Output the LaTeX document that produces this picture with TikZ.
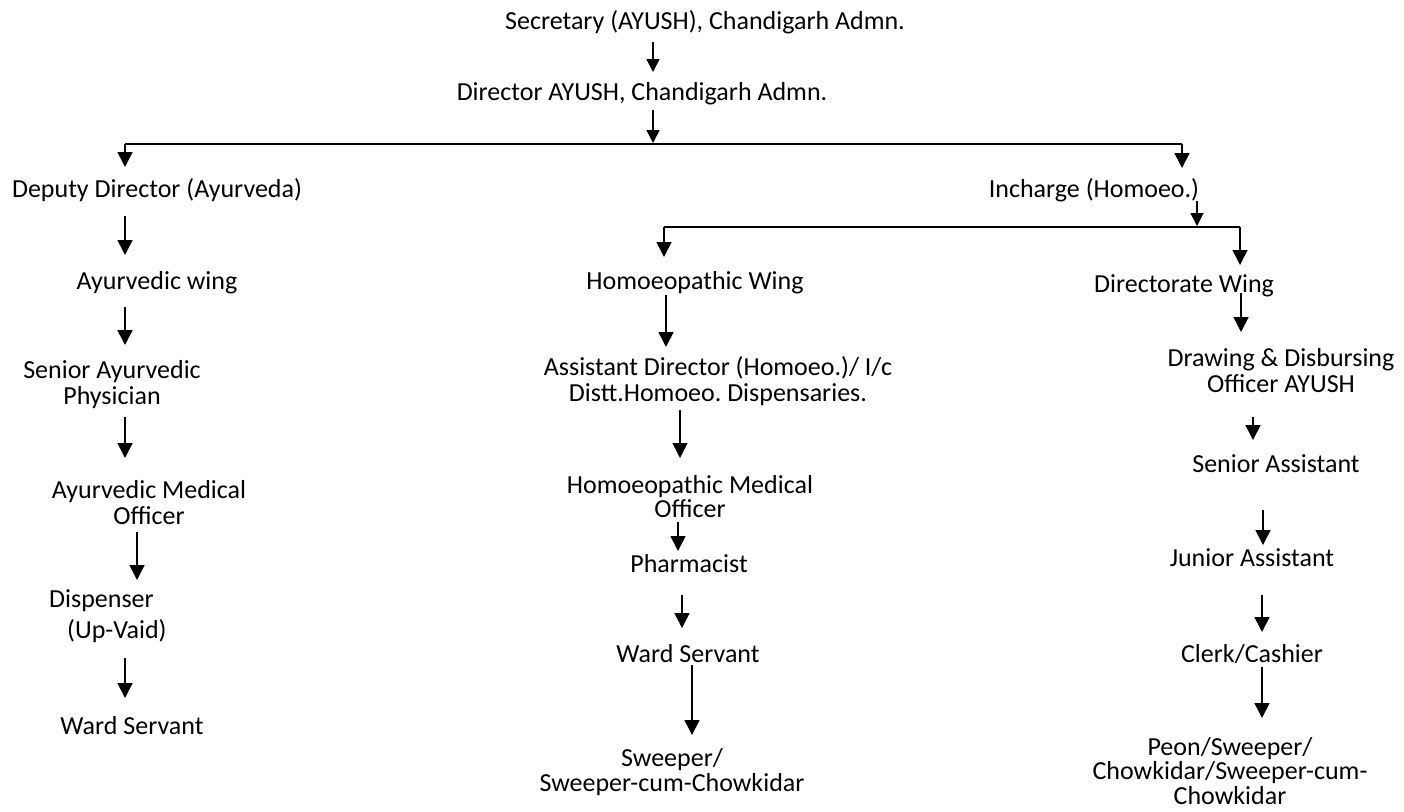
\documentclass[tikz,border=0pt]{standalone}
\usepackage{fontspec}
\setmainfont{Carlito}
\frenchspacing
\usetikzlibrary{arrows.meta}
\newcommand\mlines[1]{\parbox[t]{400pt}{\setlength\lineskiplimit{-50pt}\centering #1}}
\newcommand\varr[4]{\coordinate (#1s) at (#2,#3); \coordinate (#1e) at (#2,#4); \draw[arr] (#1s) -- (#1e);}
\begin{document}
\begin{tikzpicture}[x=1pt,y=-1pt,
  lbl/.style={inner sep=0pt, anchor=base, font={\fontsize{26}{26}\selectfont}},
  arr/.style={line width=1.6pt, -{Triangle[length=15pt,width=15pt]}},
  sarr/.style={line width=1.6pt, -{Triangle[length=13pt,width=13pt]}},
  tbar/.style={line width=2.8pt},
  lbar/.style={line width=1.6pt}]
\fill[white] (0,0) rectangle (1404,811);
\useasboundingbox (0,0) rectangle (1404,811);

% top
\node[lbl] (sec) at (705,29) {Secretary (AYUSH), Chandigarh Admn.};
\node[lbl] (dir) at (642,100) {Director AYUSH, Chandigarh Admn.};
\coordinate (a1s) at (653,42); \coordinate (a1e) at (653,72);
\draw[sarr] (a1s) -- (a1e);
\coordinate (a2s) at (653,110); \coordinate (a2e) at (653,143);
\draw[sarr] (a2s) -- (a2e);

% main bar
\coordinate (tbL) at (125,144);
\coordinate (tbR) at (1182,144);
\draw[tbar] (tbL) -- (tbR);
\coordinate (tbLe) at (125,167);
\coordinate (tbRe) at (1182,168);
\draw[arr] (tbL) -- (tbLe);
\draw[arr] (tbR) -- (tbRe);

\node[lbl] (dep) at (157,197) {Deputy Director (Ayurveda)};
\node[lbl] (inc) at (1094,197) {Incharge (Homoeo.)};

% homoeo bar
\coordinate (ias) at (1197,201);
\coordinate (iae) at (1197,226);
\draw[sarr] (ias) -- (iae);
\coordinate (lbL) at (664,227);
\coordinate (lbR) at (1240,227);
\draw[lbar] (lbL) -- (lbR);
\coordinate (lbLe) at (664,257);
\coordinate (lbRe) at (1240,265);
\draw[arr] (lbL) -- (lbLe);
\draw[arr] (lbR) -- (lbRe);

\node[lbl] (aw) at (157,289) {Ayurvedic wing};
\node[lbl] (hw) at (695,289) {Homoeopathic Wing};
\node[lbl] (dw) at (1184,292) {Directorate Wing};

% left column
\varr{l1}{125}{216}{255}
\varr{l2}{125}{307}{345}
\node[lbl] (sap) at (112,378) {\mlines{Senior Ayurvedic\\Physician}};
\varr{l3}{125}{417}{458}
\node[lbl] (amo) at (149,498) {\mlines{Ayurvedic Medical\\Officer}};
\varr{l4}{137}{532}{580}
\node[lbl, anchor=base west] (disp) at (49,607) {\parbox[t]{150pt}{\raggedright Dispenser\\[5pt]\hspace*{18pt}(Up-Vaid)}};
\varr{l5}{125}{658}{698}
\node[lbl] (ws1) at (132,734) {Ward Servant};

% middle column
\varr{m1}{666}{295}{347}
\node[lbl] (ad) at (718,375) {\mlines{Assistant Director (Homoeo.)/ I/c\\Distt.Homoeo. Dispensaries.}};
\varr{m2}{680}{410}{458}
\node[lbl] (hmo) at (690,493) {\mlines{Homoeopathic Medical\\[-2pt]Officer}};
\varr{m3}{678}{522}{551}
\node[lbl] (ph) at (689,572) {Pharmacist};
\varr{m4}{682}{595}{628}
\node[lbl] (ws2) at (688,662) {Ward Servant};
\varr{m5}{692}{665}{735}
\node[lbl] (sw) at (672,766) {\mlines{Sweeper/\\[-1pt]Sweeper-cum-Chowkidar}};

% right column
\varr{r1}{1241}{293}{332}
\node[lbl] (dd) at (1281,366) {\mlines{Drawing \& Disbursing\\Officer AYUSH}};
\varr{r2}{1253}{417}{440}
\node[lbl] (sa) at (1276,472) {Senior Assistant};
\varr{r3}{1263}{510}{545}
\node[lbl] (ja) at (1252,566) {Junior Assistant};
\varr{r4}{1262}{595}{632}
\node[lbl] (cc) at (1252,662) {Clerk/Cashier};
\varr{r5}{1262}{667}{718}
\node[lbl] (pe) at (1230,755) {\mlines{Peon/Sweeper/\\[-1.5pt]Chowkidar/Sweeper-cum-\\[-1.5pt]Chowkidar}};
\end{tikzpicture}
\end{document}
